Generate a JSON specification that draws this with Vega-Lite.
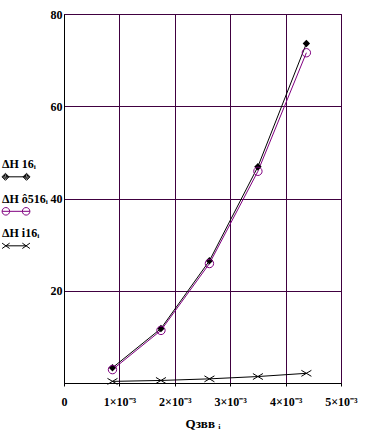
{
  "$schema": "https://vega.github.io/schema/vega-lite/v6.json",
  "width": 277,
  "height": 369,
  "autosize": {"type": "none"},
  "padding": {"left": 64, "top": 14, "right": 34, "bottom": 56},
  "background": "white",
  "config": {
    "view": {"stroke": "#400040", "strokeWidth": 1},
    "font": "Liberation Serif"
  },
  "data": {
    "values": [
      {"q": 0.000875, "dh": 3.3, "s": "a"},
      {"q": 0.00175, "dh": 11.8, "s": "a"},
      {"q": 0.002625, "dh": 26.5, "s": "a"},
      {"q": 0.0035, "dh": 46.9, "s": "a"},
      {"q": 0.004375, "dh": 73.6, "s": "a"},
      {"q": 0.000875, "dh": 2.9, "s": "b"},
      {"q": 0.00175, "dh": 11.4, "s": "b"},
      {"q": 0.002625, "dh": 25.9, "s": "b"},
      {"q": 0.0035, "dh": 45.9, "s": "b"},
      {"q": 0.004375, "dh": 71.6, "s": "b"},
      {"q": 0.000875, "dh": 0.35, "s": "c"},
      {"q": 0.00175, "dh": 0.55, "s": "c"},
      {"q": 0.002625, "dh": 0.9, "s": "c"},
      {"q": 0.0035, "dh": 1.4, "s": "c"},
      {"q": 0.004375, "dh": 2.1, "s": "c"}
    ]
  },
  "encoding": {
    "x": {
      "field": "q",
      "type": "quantitative",
      "scale": {"domain": [0, 0.005], "nice": false, "zero": false},
      "axis": {
        "values": [0, 0.001, 0.002, 0.003, 0.004, 0.005],
        "labelExpr": "datum.value == 0 ? '0' : format(round(datum.value * 1000), 'd') + '×10⁻³'",
        "grid": true,
        "gridColor": "#400040",
        "gridOpacity": 1,
        "domainColor": "black",
        "tickColor": "black",
        "tickSize": 3,
        "labelPadding": 10,
        "labelFont": "Liberation Serif",
        "labelFontWeight": "bold",
        "labelFontSize": 12,
        "labelColor": "black",
        "labelFlush": false,
        "title": "Qзвв ᵢ",
        "titleFont": "Liberation Serif",
        "titleFontWeight": "bold",
        "titleFontSize": 13,
        "titleColor": "black",
        "titlePadding": 10
      }
    },
    "y": {
      "field": "dh",
      "type": "quantitative",
      "scale": {"domain": [0, 80], "nice": false},
      "axis": {
        "values": [20, 40, 60, 80],
        "grid": true,
        "gridColor": "#400040",
        "gridOpacity": 1,
        "domainColor": "black",
        "ticks": false,
        "labelPadding": 2,
        "labelFont": "Liberation Serif",
        "labelFontWeight": "bold",
        "labelFontSize": 12,
        "labelColor": "black",
        "title": null
      }
    }
  },
  "layer": [
    {
      "transform": [{"filter": "datum.s == 'a'"}],
      "mark": {"type": "line", "strokeWidth": 1, "color": "black"},
      "encoding": {}
    },
    {
      "transform": [{"filter": "datum.s == 'b'"}],
      "mark": {"type": "line", "strokeWidth": 1, "color": "#800080"},
      "encoding": {}
    },
    {
      "transform": [{"filter": "datum.s == 'c'"}],
      "mark": {"type": "line", "strokeWidth": 1, "color": "black"},
      "encoding": {}
    },
    {
      "transform": [{"filter": "datum.s == 'a'"}],
      "mark": {"type": "point", "shape": "diamond", "filled": true, "color": "black", "size": 55, "opacity": 1}
    },
    {
      "transform": [{"filter": "datum.s == 'b'"}],
      "mark": {"type": "point", "shape": "circle", "filled": false, "color": "#800080", "size": 70, "strokeWidth": 1, "opacity": 1}
    },
    {
      "transform": [{"filter": "datum.s == 'c'"}],
      "mark": {"type": "point", "shape": "M-1,-0.6L1,0.6M-1,0.6L1,-0.6", "filled": false, "color": "black", "size": 100, "strokeWidth": 1, "opacity": 1}
    },
    {
      "mark": {"type": "point", "opacity": 0, "filled": false, "strokeWidth": 1},
      "encoding": {
        "shape": {
          "field": "s",
          "type": "nominal",
          "scale": {
            "domain": ["a", "b", "c"],
            "range": [
              "M-0.78,0.95H0.78M-1.04,0.95L-0.78,0.69L-0.52,0.95L-0.78,1.21ZM-0.95,0.95L-0.78,0.78L-0.61,0.95L-0.78,1.12ZM-0.86,0.95L-0.78,0.87L-0.7,0.95L-0.78,1.03ZM0.52,0.95L0.78,0.69L1.04,0.95L0.78,1.21ZM0.61,0.95L0.78,0.78L0.95,0.95L0.78,1.12ZM0.7,0.95L0.78,0.87L0.86,0.95L0.78,1.03Z",
              "M-1.03,0.95A0.28,0.28 0 1,1 -0.47,0.95A0.28,0.28 0 1,1 -1.03,0.95ZM0.47,0.95A0.28,0.28 0 1,1 1.03,0.95A0.28,0.28 0 1,1 0.47,0.95ZM-1.03,0.95H1.03",
              "M-1.03,0.75L-0.47,1.15M-1.03,1.15L-0.47,0.75M0.47,0.75L1.03,1.15M0.47,1.15L1.03,0.75M-0.75,0.95H0.75"
            ]
          },
          "legend": {
            "title": null,
            "orient": "none",
            "legendX": -62,
            "legendY": 136,
            "padding": 0,
            "symbolSize": 729,
            "symbolStrokeWidth": 1,
            "symbolOpacity": 1,
            "labelOffset": -28,
            "labelFont": "Liberation Serif",
            "labelFontWeight": "bold",
            "labelFontSize": 12,
            "labelColor": "black",
            "rowPadding": 1.5,
            "labelExpr": "datum.value == 'a' ? 'ΔH 16ᵢ' : datum.value == 'b' ? 'ΔH ô516ᵢ' : 'ΔH i16ᵢ'"
          }
        },
        "color": {
          "field": "s",
          "type": "nominal",
          "scale": {"domain": ["a", "b", "c"], "range": ["black", "#800080", "black"]},
          "legend": {
            "title": null,
            "orient": "none",
            "legendX": -62,
            "legendY": 136
          }
        }
      }
    }
  ]
}
